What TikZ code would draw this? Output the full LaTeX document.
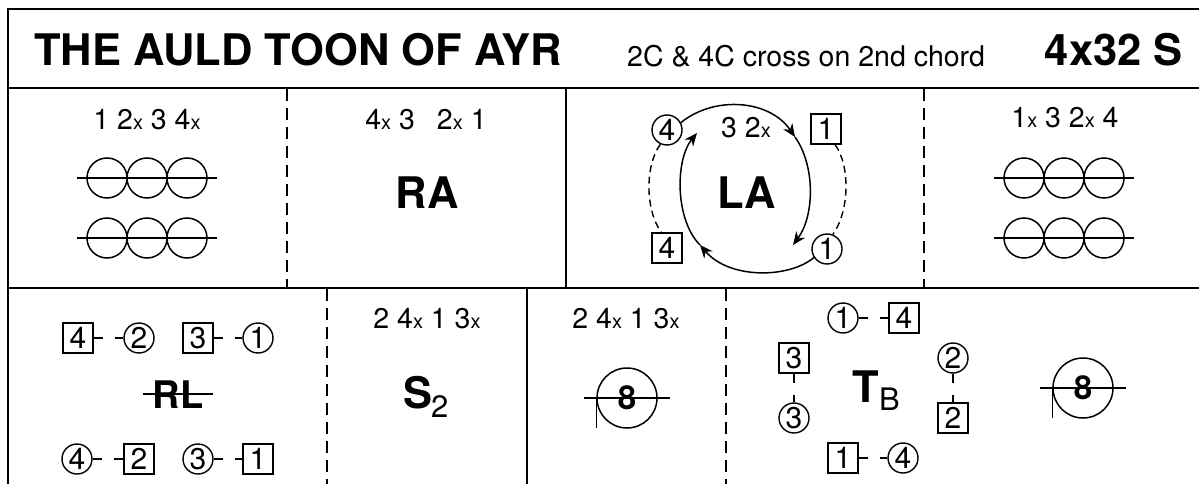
\documentclass[tikz,border=0pt]{standalone}
\usepackage{fontspec}
\setmainfont{TeX Gyre Heros}
\usetikzlibrary{arrows.meta}
\newcommand\sx{{\fontsize{20}{20}\selectfont x}}
\begin{document}
\begin{tikzpicture}[x=1pt,y=-1pt,
  frame/.style={line width=2pt},
  sep/.style={line width=1.6pt},
  vdash/.style={line width=1.4pt, dash pattern=on 12pt off 7pt},
  lbl/.style={inner sep=0pt, font=\fontsize{28.5}{30}\selectfont, anchor=base},
  big/.style={inner sep=0pt, font=\fontsize{43.5}{50}\selectfont\bfseries, anchor=base},
  dc/.style={circle, draw, line width=1.4pt, minimum size=30pt, inner sep=0pt, font=\fontsize{30}{30}\selectfont},
  db/.style={rectangle, draw, line width=1.4pt, minimum size=30pt, inner sep=0pt, font=\fontsize{30}{30}\selectfont},
  hold/.style={line width=1.4pt, dash pattern=on 9pt off 12pt},
  ring/.style={line width=1.5pt},
  arr/.style={line width=1.5pt, -{Stealth[length=13pt,width=11pt]}},
  swing/.style={line width=1.4pt, dash pattern=on 7pt off 4.5pt},
  eight/.style={circle, draw, line width=1.5pt, minimum size=60pt, inner sep=0pt, font=\fontsize{33}{33}\selectfont\bfseries},
]
\useasboundingbox (0,0) rectangle (1199,484);
\clip (0,0) rectangle (1199,484);
\fill[white] (0,0) rectangle (1199,484);
% frame
\draw[frame] (8,9) rectangle (1210,500);
\draw[frame] (8,88) -- (1210,88);
\draw[frame] (8,288) -- (1210,288);
% title row
\node[big, anchor=base west] (title) at (34,66) {THE AULD TOON OF AYR};
\node[lbl, anchor=base west] (sub) at (627,67) {2C \& 4C cross on 2nd chord};
\node[big, anchor=base east] (form) at (1183,66) {4x32 S};
% row 1 separators
\draw[vdash] (287,89) -- (287,288);
\draw[sep] (566,88) -- (566,288);
\draw[vdash] (924,89) -- (924,288);
% panel 1
\node[lbl] (l11) at (147,129) {1 2\sx{} 3 4\sx};
\foreach \y in {178,238} {
  \foreach \x in {107,147,187} \draw[ring] (\x,\y) circle[radius=20pt];
  \draw[ring] (77,\y) -- (217,\y);
}
% panel 2
\node[lbl] (l12) at (426,129) {4\sx{} 3\hspace{22pt}2\sx{} 1};
\node[big] (ra) at (427,208) {RA};
% panel 3
\node[dc] (la4) at (667,130) {4};
\node[db] (la1) at (826,129) {1};
\node[db] (la4b) at (667,248) {4};
\node[dc] (la1c) at (827,249) {1};
\node[lbl] (l13) at (746,138) {3 2\sx};
\node[big] (la) at (747,208) {LA};
\coordinate (a1) at (795,137);
\coordinate (a2) at (793,245);
\coordinate (a3) at (700,245);
\coordinate (a4) at (697,133);
\draw[arr] (la4.28) .. controls (715,95) and (770,100) .. (a1);
\draw[arr] (a1) .. controls (815,165) and (815,215) .. (a2);
\draw[arr] (la1c.213) .. controls (790,278) and (730,280) .. (a3);
\draw[arr] (a3) .. controls (675,220) and (675,160) .. (a4);
\draw[swing] (la4.245) .. controls (645,165) and (645,210) .. (la4b.110);
\draw[swing] (la1.-60) .. controls (850,165) and (850,210) .. (la1c.68);
% panel 4
\node[lbl] (l14) at (1065,128) {1\sx{} 3 2\sx{} 4};
\foreach \y in {178,238} {
  \foreach \x in {1024,1064,1104} \draw[ring] (\x,\y) circle[radius=20pt];
  \draw[ring] (994,\y) -- (1134,\y);
}
% row 2 separators
\draw[vdash] (327,289) -- (327,484);
\draw[sep] (527,288) -- (527,484);
\draw[vdash] (726,289) -- (726,484);
% row 2 panel 1
\node[db] (r4) at (78,338) {4};
\node[dc] (r2) at (139,338) {2};
\node[db] (r3) at (198,338) {3};
\node[dc] (r1) at (258,338) {1};
\draw[hold] (r4) -- (r2);
\draw[hold] (r3) -- (r1);
\node[big, font=\fontsize{38}{40}\selectfont\bfseries] (rl) at (178,408) {RL};
\draw[line width=2pt] ([xshift=-9pt]rl.west) -- ([xshift=9pt]rl.east);
\node[dc] (s4) at (77,459) {4};
\node[db] (s2) at (139,459) {2};
\node[dc] (s3) at (198,459) {3};
\node[db] (s1) at (258,459) {1};
\draw[hold] (s4) -- (s2);
\draw[hold] (s3) -- (s1);
% row 2 panel 2
\node[lbl] (l22) at (427,328) {2 4\sx{} 1 3\sx};
\node[big, anchor=base west] (s) at (403,408) {S};
\node[lbl, anchor=base west, font=\fontsize{31}{31}\selectfont] (ssub) at (431,417) {2};
% row 2 panel 3
\node[lbl] (l23) at (626,328) {2 4\sx{} 1 3\sx};
\node[eight] (e1) at (627,398) {8};
\draw[ring] ([xshift=-12pt]e1.west) -- ([xshift=12pt]e1.east);
\draw[ring] (e1.west) -- ++(0,30);
% row 2 panel 4
\node[dc] (t1) at (843,318) {1};
\node[db] (t4) at (904,318) {4};
\draw[hold] (t1) -- (t4);
\node[db] (t3) at (794,358) {3};
\node[dc] (t3c) at (794,418) {3};
\draw[hold] (t3) -- (t3c);
\node[dc] (t2) at (953,358) {2};
\node[db] (t2b) at (953,418) {2};
\draw[hold] (t2) -- (t2b);
\node[db] (t1b) at (843,458) {1};
\node[dc] (t4c) at (903,458) {4};
\draw[hold] (t1b) -- (t4c);
\node[big, anchor=base west] (tt) at (852,402) {T};
\node[lbl, anchor=base west, font=\fontsize{31}{31}\selectfont] (tb) at (879,410) {B};
\node[eight] (e2) at (1083,388) {8};
\draw[ring] ([xshift=-12pt]e2.west) -- ([xshift=12pt]e2.east);
\draw[ring] (e2.west) -- ++(0,30);
\end{tikzpicture}
\end{document}
